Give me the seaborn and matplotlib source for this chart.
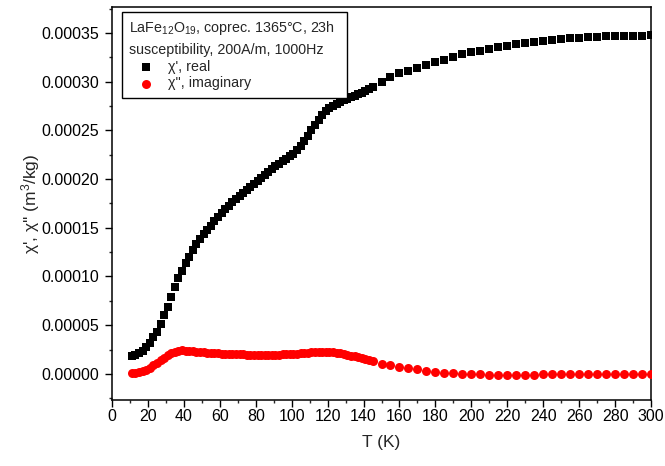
import numpy as np
import pandas as pd
import matplotlib
matplotlib.use("Agg")
import matplotlib.pyplot as plt
from matplotlib.ticker import MultipleLocator, FormatStrFormatter
import seaborn as sns

# ---- data ----
T_low = [11, 13, 15, 17, 19, 21, 23, 25, 27, 29, 31, 33, 35, 37, 39, 41, 43, 45, 47, 49,
         51, 53, 55, 57, 59, 61, 63, 65, 67, 69, 71, 73, 75, 77, 79, 81, 83, 85, 87, 89,
         91, 93, 95, 97, 99, 101, 103, 105, 107, 109, 111, 113, 115, 117, 119, 121, 123, 125, 127, 129,
         131, 133, 135, 137, 139, 141, 143, 145]
T_high = [150, 155, 160, 165, 170, 175, 180, 185, 190, 195, 200, 205, 210, 215, 220, 225,
          230, 235, 240, 245, 250, 255, 260, 265, 270, 275, 280, 285, 290, 295, 300]
temperature = T_low + T_high

chi_real = [
    0.0000185, 0.0000195, 0.0000215, 0.0000240, 0.0000275, 0.0000320, 0.0000375, 0.0000435, 0.0000510, 0.0000600,
    0.0000690, 0.0000790, 0.0000890, 0.0000980, 0.0001060, 0.0001135, 0.0001200, 0.0001270, 0.0001330, 0.0001390,
    0.0001435, 0.0001480, 0.0001520, 0.0001570, 0.0001610, 0.0001650, 0.0001690, 0.0001725, 0.0001760, 0.0001795,
    0.0001830, 0.0001860, 0.0001890, 0.0001920, 0.0001950, 0.0001985, 0.0002015, 0.0002045, 0.0002075, 0.0002100,
    0.0002130, 0.0002160, 0.0002185, 0.0002210, 0.0002235, 0.0002260, 0.0002295, 0.0002340, 0.0002390, 0.0002445,
    0.0002500, 0.0002555, 0.0002610, 0.0002655, 0.0002700, 0.0002730, 0.0002755, 0.0002775, 0.0002795, 0.0002810,
    0.0002825, 0.0002840, 0.0002855, 0.0002870, 0.0002885, 0.0002900, 0.0002920, 0.0002945,
    0.0003000, 0.0003050, 0.0003085, 0.0003115, 0.0003145, 0.0003175, 0.0003200, 0.0003225, 0.0003250, 0.0003280,
    0.0003300, 0.0003320, 0.0003335, 0.0003355, 0.0003370, 0.0003385, 0.0003395, 0.0003410, 0.0003420, 0.0003430,
    0.0003440, 0.0003445, 0.0003450, 0.0003455, 0.0003460, 0.0003465, 0.0003470, 0.0003470, 0.0003472, 0.0003474,
    0.0003475]

chi_imag = [
    0.0000005, 0.0000008, 0.0000015, 0.0000028, 0.0000045, 0.0000065, 0.0000088, 0.0000112, 0.0000138, 0.0000165,
    0.0000190, 0.0000212, 0.0000228, 0.0000238, 0.0000241, 0.0000240, 0.0000236, 0.0000232, 0.0000228, 0.0000224,
    0.0000221, 0.0000218, 0.0000215, 0.0000212, 0.0000210, 0.0000208, 0.0000206, 0.0000204, 0.0000203, 0.0000202,
    0.0000201, 0.0000200, 0.0000199, 0.0000198, 0.0000198, 0.0000197, 0.0000197, 0.0000197, 0.0000197, 0.0000197,
    0.0000198, 0.0000199, 0.0000200, 0.0000201, 0.0000203, 0.0000205, 0.0000208, 0.0000211, 0.0000214, 0.0000218,
    0.0000222, 0.0000225, 0.0000227, 0.0000228, 0.0000227, 0.0000225, 0.0000221, 0.0000216, 0.0000210, 0.0000203,
    0.0000196, 0.0000188, 0.0000180, 0.0000171, 0.0000162, 0.0000153, 0.0000143, 0.0000133,
    0.0000105, 0.0000090, 0.0000075, 0.0000061, 0.0000046, 0.0000034, 0.0000023, 0.0000014, 0.0000007, 0.0000001,
    -0.0000003, -0.0000006, -0.0000008, -0.0000010, -0.0000010, -0.0000010, -0.0000009, -0.0000008, -0.0000006, -0.0000005,
    -0.0000003, -0.0000002, -0.0000001, 0.0000000, 0.0000000, 0.0000000, 0.0000000, 0.0000001, 0.0000001, 0.0000001,
    0.0000001]

series_labels = ["\u03c7', real", "\u03c7'', imaginary"]
legend_title = ("LaFe$\\mathregular{_{12}}$O$\\mathregular{_{19}}$, coprec. 1365\u00b0C, 23h  \n"
                "susceptibility, 200A/m, 1000Hz")
x_label = "T (K)"
y_label = "\u03c7', \u03c7'' (m$\\mathregular{^3}$/kg)"

df_real = pd.DataFrame({"T": temperature, "chi": chi_real})
df_imag = pd.DataFrame({"T": temperature, "chi": chi_imag})

# ---- style ----
sns.set_style("ticks")
plt.rcParams["font.family"] = ["Liberation Sans", "DejaVu Sans"]
plt.rcParams["mathtext.fontset"] = "custom"
plt.rcParams["mathtext.rm"] = "Liberation Sans"
plt.rcParams["mathtext.it"] = "Liberation Sans:italic"
plt.rcParams["mathtext.bf"] = "Liberation Sans:bold"

fig = plt.figure(figsize=(6.65, 4.66), dpi=100)
ax = fig.add_axes([112 / 665, 1 - 400 / 466, 539 / 665, 393 / 466])

sns.scatterplot(data=df_real, x="T", y="chi", ax=ax, marker="s", color="black",
                s=30, linewidth=0, label=series_labels[0], zorder=3)
sns.scatterplot(data=df_imag, x="T", y="chi", ax=ax, marker="o", color="#ff0000",
                s=42, linewidth=0, label=series_labels[1], zorder=3)

ax.set_xlim(0, 300)
ax.set_ylim(-0.0000268, 0.0003767)
ax.xaxis.set_major_locator(MultipleLocator(20))
ax.xaxis.set_minor_locator(MultipleLocator(10))
ax.yaxis.set_major_locator(MultipleLocator(0.00005))
ax.yaxis.set_minor_locator(MultipleLocator(0.000025))
ax.yaxis.set_major_formatter(FormatStrFormatter("%.5f"))

for sp in ax.spines.values():
    sp.set_visible(True)
    sp.set_linewidth(1.1)
    sp.set_color("black")

ax.tick_params(axis="both", which="major", direction="out", length=5, width=1.0,
               labelsize=11.5, colors="black", top=False, right=False)
ax.tick_params(axis="both", which="minor", direction="out", length=2.5, width=1.0,
               top=False, right=False)
ax.tick_params(axis="x", which="major", pad=1.5)
ax.tick_params(axis="y", which="major", pad=4)

ax.set_xlabel(x_label, fontsize=12.5, labelpad=8)
ax.set_ylabel(y_label, fontsize=12.5, labelpad=0)

leg = ax.legend(title=legend_title, loc="upper left", bbox_to_anchor=(0.0186, 0.987),
                borderaxespad=0, fontsize=10.3, title_fontsize=10.3, frameon=True,
                fancybox=False, framealpha=1, edgecolor="black", alignment="left",
                handlelength=2.4, handletextpad=0.3, labelspacing=0.2, borderpad=0.5)
leg.get_title().set_linespacing(1.5)
leg.get_frame().set_linewidth(1.0)

fig.savefig("out.png", dpi=100)
